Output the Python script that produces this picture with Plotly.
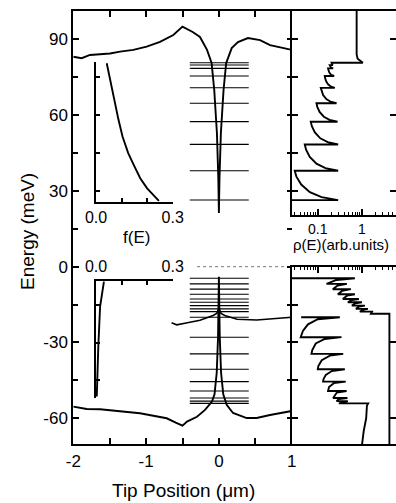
import plotly.graph_objects as go

# ---------------- data ----------------
# conduction-band potential profile (main panel, top)
cb_x = [-2.0, -1.885, -1.771, -1.633, -1.496, -1.358, -1.176, -0.992, -0.809, -0.626, -0.5, -0.36, -0.26,
        -0.163, -0.1, -0.064, -0.027, -0.008, 0.0, 0.008, 0.027, 0.064, 0.1, 0.176, 0.262, 0.399, 0.565,
        0.702, 0.839, 1.0]
cb_E = [83.1, 82.5, 83.8, 84.1, 84.4, 85.1, 85.8, 87.1, 89.0, 91.7, 95.0, 92.9, 90.9,
        85.8, 80.6, 70.0, 52.8, 35.0, 21.3, 35.0, 52.8, 70.0, 80.6, 86.5, 88.9, 90.5, 89.7,
        87.7, 86.9, 85.8]
# valence-band potential profile (main panel, bottom)
vb_x = [-2.0, -1.816, -1.633, -1.451, -1.266, -1.084, -0.901, -0.717, -0.593, -0.5, -0.438, -0.301, -0.191,
        -0.095, -0.06, -0.03, -0.012, -0.005, 0.0, 0.005, 0.012, 0.03, 0.06, 0.107, 0.194, 0.382, 0.519,
        0.702, 0.839, 1.0]
vb_E = [-55.4, -56.3, -56.4, -57.0, -57.6, -58.0, -59.0, -60.0, -61.7, -62.9, -61.3, -59.4, -56.7,
        -53.4, -50.5, -42.0, -28.0, -15.0, -4.0, -15.0, -28.0, -42.0, -50.5, -54.7, -57.9, -59.9, -59.9,
        -58.7, -57.9, -57.1]
# second valence profile (around -20 meV)
mid_x = [-0.65, -0.58, -0.45, -0.26, -0.08, -0.03, 0.0, 0.03, 0.08, 0.25, 0.52, 0.84, 1.0]
mid_E = [-22.2, -23.0, -22.3, -21.2, -19.3, -18.5, -16.5, -18.5, -19.3, -20.8, -21.1, -20.4, -20.0]

# energy levels (meV)
cb_levels = [26.4, 38.0, 48.4, 57.4, 64.7, 70.8, 75.5, 78.5, 79.8, 80.7]
lh_levels = [-4.6, -6.8, -8.9, -10.9, -12.8, -14.1, -15.4, -16.7, -17.8]
hh_levels = [-20.0, -27.9, -34.5, -40.6, -45.5, -49.2, -52.0, -53.2, -54.1]
level_span = [-0.40, 0.41]
zero_span = [-0.30, 1.0]

# occupation f(E) insets
fcb_f = [0.042, 0.058, 0.074, 0.088, 0.104, 0.126, 0.148, 0.173, 0.200, 0.246]
fcb_E = [80.5, 72.6, 64.7, 58.1, 51.4, 44.9, 40.2, 35.0, 31.0, 26.0]
fvb_f = [0.031, 0.016, 0.009, 0.003]
fvb_E = [-5.9, -15.8, -31.7, -51.4]

# density of states rho(E) (arb. units, log scale)
dos_cb_rho = [0.02, 0.289, 0.122, 0.0662, 0.0422, 0.0328, 0.030,
              0.289, 0.149, 0.0933, 0.0658, 0.0543, 0.0507,
              0.289, 0.168, 0.114, 0.0859, 0.0734, 0.0693,
              0.28, 0.185, 0.137, 0.110, 0.0975, 0.0934,
              0.266, 0.195, 0.156, 0.132, 0.121, 0.117,
              0.243, 0.2, 0.173, 0.156, 0.147, 0.144,
              0.235, 0.2, 0.18, 0.171,
              0.223, 0.2, 0.187,
              0.219, 0.21, 0.205,
              1.05, 0.95, 0.8, 0.76, 0.76]
dos_cb_E = [26.4, 26.4, 27.56, 29.53, 32.55, 35.68, 38.0,
            38.0, 39.04, 40.81, 43.51, 46.32, 48.4,
            48.4, 49.3, 50.83, 53.17, 55.6, 57.4,
            57.4, 58.13, 59.37, 61.27, 63.24, 64.7,
            64.7, 65.31, 66.35, 67.93, 69.58, 70.8,
            70.8, 71.27, 72.07, 73.29, 74.56, 75.5,
            75.5, 75.9, 77.1, 78.5,
            78.5, 78.8, 79.8,
            79.8, 80.1, 80.7,
            80.7, 81.3, 82.3, 84.0, 102.0]
dos_lh_rho = [0.02, 0.693, 0.265, 0.158, 0.456, 0.283, 0.219, 0.562, 0.361, 0.285, 0.693, 0.461, 0.370,
              0.855, 0.589, 0.481, 1.0, 0.711, 0.593, 1.17, 0.861, 0.731, 1.37, 1.045, 0.901, 1.69,
              1.6, 4.2, 4.2]
dos_lh_E = [-4.6, -4.6, -5.26, -6.8, -6.8, -7.43, -8.9, -8.9, -9.5, -10.9, -10.9, -11.47, -12.8,
            -12.8, -13.19, -14.1, -14.1, -14.49, -15.4, -15.4, -15.79, -16.7, -16.7, -17.03, -17.8, -17.8,
            -18.6, -18.6, -72.0]
dos_hh_rho = [0.042, 0.316, 0.1, 0.060, 0.046, 0.041, 0.345, 0.144, 0.09, 0.075, 0.072, 0.377, 0.188,
              0.123, 0.103, 0.1, 0.41, 0.208, 0.152, 0.135, 0.132, 0.43, 0.231, 0.18, 0.171, 0.45, 0.27,
              0.223, 0.47, 0.3, 0.266, 0.48, 0.30, 1.39, 1.3, 1.25, 1.1, 0.98]
dos_hh_E = [-20.0, -20.0, -20.8, -22.8, -25.4, -27.9, -27.9, -28.6, -30.4, -33.0, -34.5, -34.5, -35.2,
            -37.0, -39.3, -40.6, -40.6, -41.3, -42.8, -44.5, -45.5, -45.5, -46.1, -47.6, -49.2, -49.2, -49.8,
            -52.0, -52.0, -52.4, -53.2, -53.2, -54.1, -54.1, -55.0, -60.0, -65.0, -72.0]

x_tickvals = [-2, -1.5, -1, -0.5, 0, 0.5, 1]
x_ticktext = ['-2', '', '-1', '', '0', '', '1']
y_tickvals = [-60, -30, 0, 30, 60, 90]
y_ticktext = ['-60', '-30', '0', '30', '60', '90']
rho_tickvals = [0.1, 1]
rho_ticktext = ['0.1', '1']
rho_minor = [0.03, 0.04, 0.05, 0.06, 0.07, 0.08, 0.09, 0.2, 0.3, 0.4, 0.5, 0.6, 0.7, 0.8, 0.9, 2, 3, 4, 5]

# ---------------- figure ----------------
FONT = "Liberation Sans, Arial, sans-serif"
BLK = "black"
fig = go.Figure()


def line(x, y, xa, ya, w=1.8, dash=None, color=BLK):
    fig.add_trace(go.Scatter(x=x, y=y, xaxis=xa, yaxis=ya, mode="lines",
                             line=dict(color=color, width=w, dash=dash),
                             showlegend=False, hoverinfo="skip"))


def level_lines(levels):
    xs, ys = [], []
    for e in levels:
        xs += [level_span[0], level_span[1], None]
        ys += [e, e, None]
    return xs, ys


# main panel
lx, ly = level_lines(cb_levels)
line(lx, ly, "x", "y", w=1.1)
lx, ly = level_lines(lh_levels + hh_levels)
line(lx, ly, "x", "y", w=1.1)
line(cb_x, cb_E, "x", "y", w=1.9)
line(vb_x, vb_E, "x", "y", w=1.9)
line(mid_x, mid_E, "x", "y", w=1.6)
line(zero_span, [0, 0], "x", "y", w=0.8, dash="dot", color="#555")
line([None], [None], "x", "y4")

# insets
line(fcb_f, fcb_E, "x5", "y5", w=1.9)
line(fvb_f, fvb_E, "x6", "y6", w=1.9)

# DOS panels
line(dos_cb_rho, dos_cb_E, "x2", "y2", w=1.9)
line(dos_lh_rho, dos_lh_E, "x3", "y3", w=1.9)
line(dos_hh_rho, dos_hh_E, "x3", "y3", w=1.9)
line([None], [None], "x2", "y7")
line([None], [None], "x3", "y8")

W, H = 396, 503
MX = [73.3 / W, 291.7 / W]
RX = [291.7 / W, 1.0]
MY = [(H - 444.3) / H, (H - 11) / H]
RTY = [(H - 215) / H, (H - 11) / H]
RBY = [(H - 444.3) / H, (H - 266.7) / H]
IX = [96 / W, 172.7 / W]
ITY = [(H - 201.7) / H, (H - 61.7) / H]
IBY = [(H - 398.3) / H, (H - 280.7) / H]

tickfont = dict(family=FONT, size=17, color=BLK)
ax_common = dict(showgrid=False, zeroline=False, showline=True, linecolor=BLK, linewidth=2,
                 ticks="inside", tickcolor=BLK, tickwidth=1.5, automargin=False, tickfont=tickfont)


def ann(text, px, py, size, angle=0):
    return dict(text=text, x=px / W, y=(H - py) / H, xref="paper", yref="paper",
                xanchor="center", yanchor="middle", textangle=angle, showarrow=False,
                font=dict(family=FONT, size=size, color=BLK))


fig.update_layout(
    width=W, height=H, margin=dict(l=0, r=0, t=0, b=0),
    paper_bgcolor="white", plot_bgcolor="rgba(0,0,0,0)",
    font=dict(family=FONT, color=BLK),
    xaxis=dict(domain=MX, anchor="y", range=[-2, 1], tickvals=x_tickvals, ticktext=x_ticktext,
               ticklen=6, mirror="ticks", **ax_common),
    yaxis=dict(domain=MY, anchor="x", range=[-70.3, 101.2], tickvals=y_tickvals, ticktext=y_ticktext,
               ticklen=6, minor=dict(ticks="inside", tickmode="linear", tick0=15, dtick=30, ticklen=5,
                                     tickcolor=BLK, tickwidth=1.5),
               **ax_common),
    yaxis4=dict(overlaying="y", anchor="x", side="right", range=[-70.3, 101.2], tickmode="linear",
                tick0=0, dtick=15, ticks="inside", ticklen=5, tickcolor=BLK, tickwidth=1.5,
                showline=False, showgrid=False, zeroline=False, showticklabels=False),
    xaxis2=dict(domain=RX, anchor="y2", type="log", range=[-1.591, 0.7727], tickvals=rho_tickvals,
                ticktext=rho_ticktext, ticklen=6, mirror=True,
                minor=dict(ticks="inside", tickvals=rho_minor, ticklen=3, tickcolor=BLK, tickwidth=1.2),
                **{**ax_common, "tickfont": dict(family=FONT, size=14, color=BLK)}),
    yaxis2=dict(domain=RTY, anchor="x2", range=[20.5, 101.2], tickmode="linear", tick0=0, dtick=15,
                ticklen=6, showticklabels=False, **ax_common),
    yaxis7=dict(overlaying="y2", anchor="x2", side="right", range=[20.5, 101.2], tickmode="linear",
                tick0=0, dtick=30, ticks="inside", ticklen=6, tickcolor=BLK, tickwidth=1.5,
                showline=False, showgrid=False, zeroline=False, showticklabels=False),
    xaxis3=dict(domain=RX, anchor="y3", side="top", type="log", range=[-1.591, 0.7727],
                tickvals=rho_tickvals, ticklen=6, mirror=True, showticklabels=False,
                minor=dict(ticks="inside", tickvals=rho_minor, ticklen=3, tickcolor=BLK, tickwidth=1.2),
                **ax_common),
    yaxis3=dict(domain=RBY, anchor="x3", range=[-70.3, 0], tickmode="linear", tick0=0, dtick=15,
                ticklen=6, showticklabels=False, **ax_common),
    yaxis8=dict(overlaying="y3", anchor="x3", side="right", range=[-70.3, 0], tickmode="linear",
                tick0=0, dtick=30, ticks="inside", ticklen=6, tickcolor=BLK, tickwidth=1.5,
                showline=False, showgrid=False, zeroline=False, showticklabels=False),
    xaxis5=dict(domain=IX, anchor="y5", range=[0, 0.3], tickvals=[0, 0.1, 0.2, 0.3],
                ticktext=["0.0", "", "", "0.3"], ticklen=4,
                **{**ax_common, "tickfont": dict(family=FONT, size=16, color=BLK)}),
    yaxis5=dict(domain=ITY, anchor="x5", range=[25.7, 81.1], tickvals=[30, 45, 60, 75], ticklen=4,
                showticklabels=False, **ax_common),
    xaxis6=dict(domain=IX, anchor="y6", side="top", range=[0, 0.3], tickvals=[0, 0.1, 0.2, 0.3],
                ticktext=["0.0", "", "", "0.3"], ticklen=4,
                **{**ax_common, "tickfont": dict(family=FONT, size=16, color=BLK)}),
    yaxis6=dict(domain=IBY, anchor="x6", range=[-52.1, -5.5], tickvals=[-15, -30, -45], ticklen=4,
                showticklabels=False, **ax_common),
    annotations=[
        ann("Energy (meV)", 27, 232, 19, -90),
        ann("Tip Position (μm)", 183, 490, 19),
        ann("f(E)", 136, 237, 17),
        ann("ρ(E)(arb.units)", 341, 244, 15),
    ],
)

fig.write_html("out.html", config={"displayModeBar": False},
               post_script="document.body.style.margin='0px';document.body.style.overflow='hidden';")
